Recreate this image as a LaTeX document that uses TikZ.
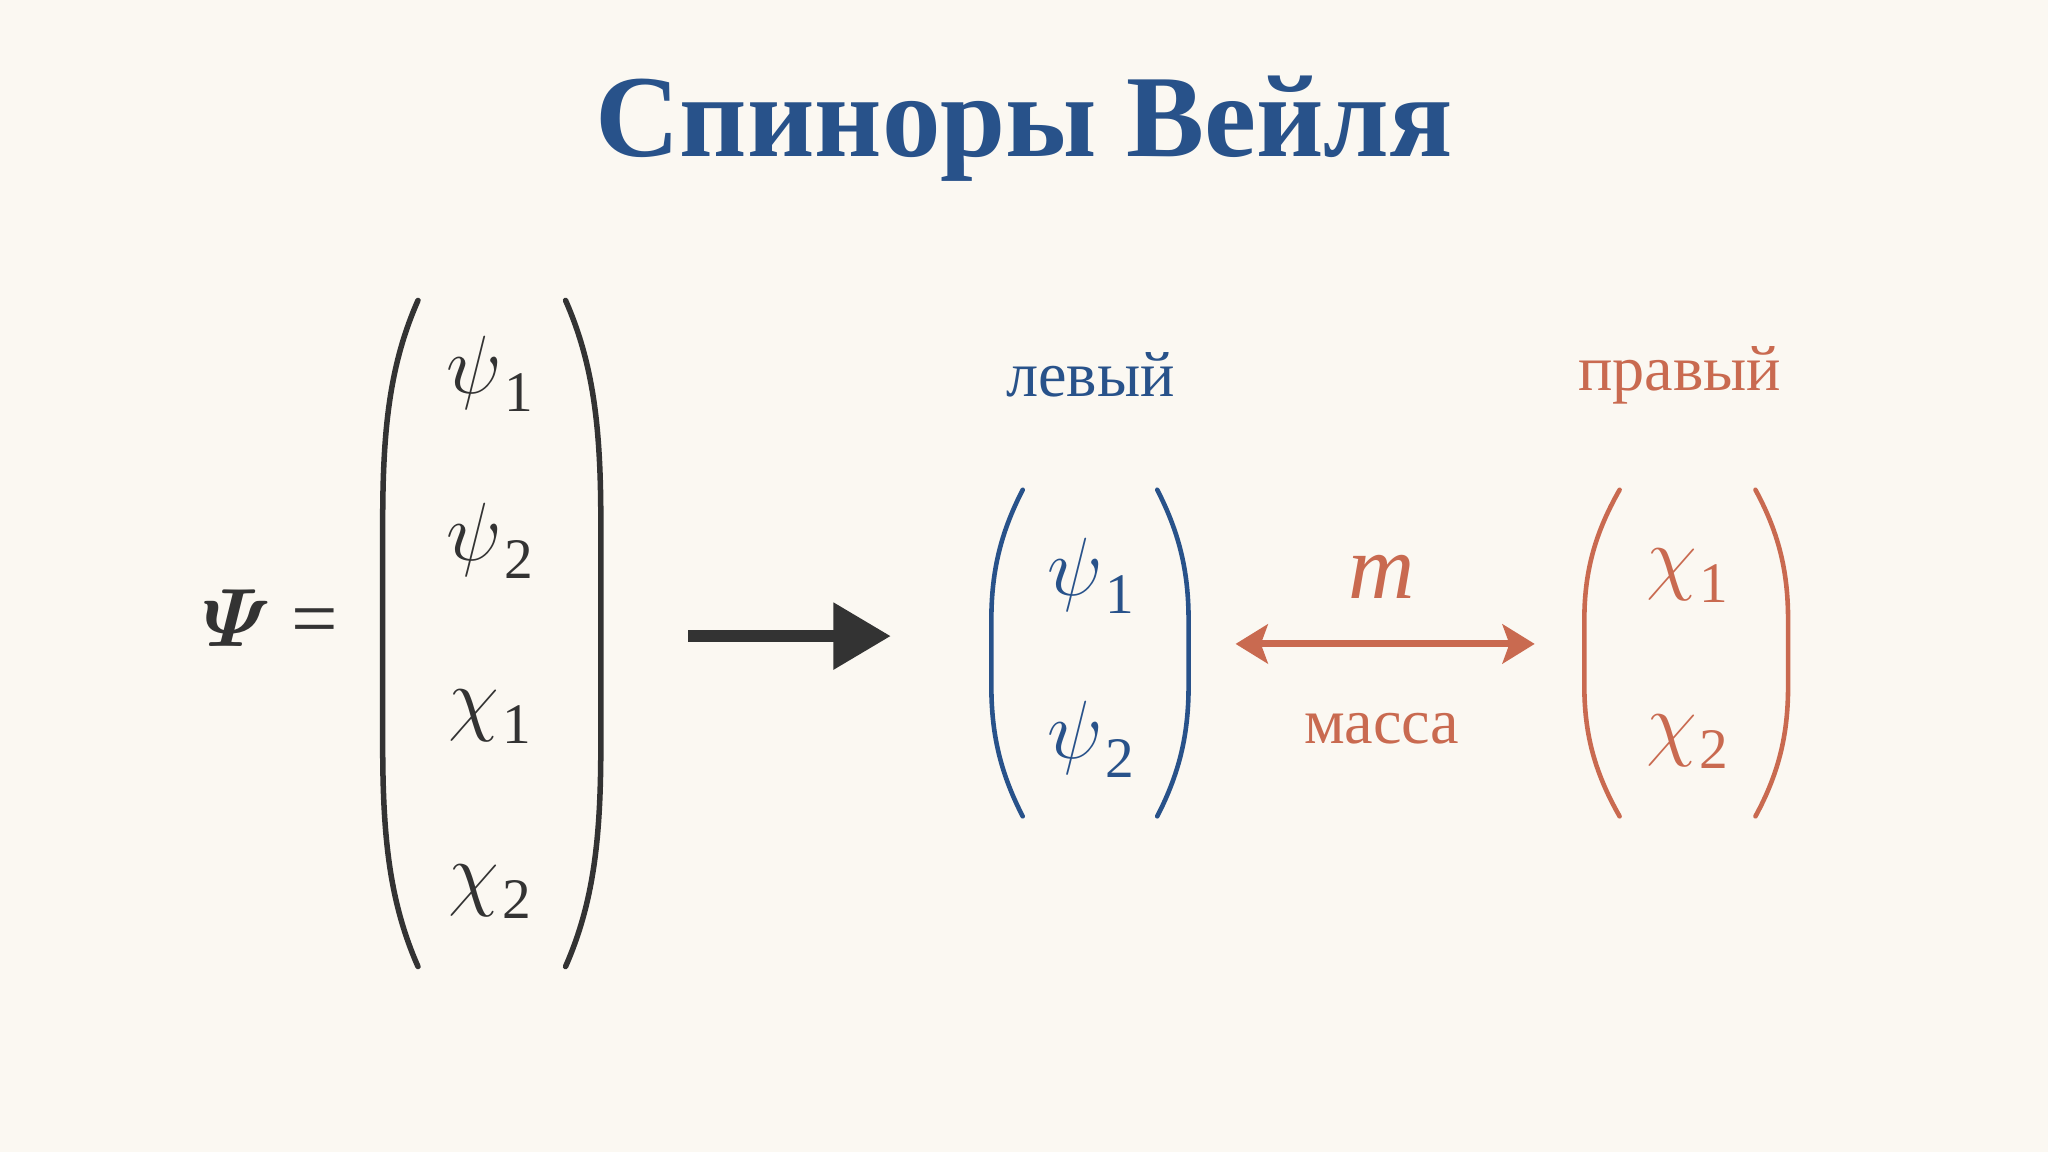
\RequirePackage{fix-cm}
\documentclass[tikz,border=0pt]{standalone}
\usepackage{amsmath}
\usepackage{fontspec}
\setmainfont{Liberation Serif}
\usepackage{xcolor}
\usepackage{tikz}
\usetikzlibrary{arrows.meta}
\definecolor{paper}{RGB}{251,248,242}
\definecolor{weylblue}{RGB}{40,82,138}
\definecolor{weylred}{RGB}{201,106,80}
\definecolor{ink}{RGB}{51,51,51}
\newcommand{\comp}[2]{$#1$\kern0.03em\raisebox{-0.22em}{\fontsize{25}{28}\selectfont #2}}
\tikzset{
	paren/.style={line width=2.4pt,line cap=round},
	smallparen/.style={line width=2pt,line cap=round},
	entry/.style={inner sep=0pt,font=\fontsize{36}{40}\selectfont},
	label/.style={inner sep=0pt,font=\fontsize{28}{32}\selectfont}
}

\begin{document}
\begin{tikzpicture}[line join=round,x=0.02cm,y=-0.02cm]
		\fill[paper] (0,0) rectangle (1568,882);
		\useasboundingbox (0,0) rectangle (1568,882);
		% title
		\node[inner sep=0pt,anchor=base,text=weylblue,font=\fontsize{51}{60}\selectfont\bfseries] (title) at (784,120) {Спиноры Вейля};
		% full Dirac spinor
		\node[entry,text=ink] (Psi) at (207,473) {$\boldsymbol{\varPsi}$ =};
		\draw [paren,ink] (320,230) .. controls (298,280) and (293,330) .. (293,400) -- (293,570) .. controls (293,640) and (298,690) .. (320,740);
		\draw [paren,ink] (433,230) .. controls (455,280) and (460,330) .. (460,400) -- (460,570) .. controls (460,640) and (455,690) .. (433,740);
		\node[entry,text=ink] (psiA) at (375,286) {\comp{\psi}{1}};
		\node[entry,text=ink] (psiB) at (375,414) {\comp{\psi}{2}};
		\node[entry,text=ink] (chiA) at (375,549) {\comp{\chi}{1}};
		\node[entry,text=ink] (chiB) at (375,683) {\comp{\chi}{2}};
		\coordinate (splitL) at (527,487);
		\coordinate (splitR) at (682,487);
		\draw [ink,line width=5pt,-{Triangle[length=25pt,width=28pt]}] (splitL) -- (splitR);
		% left-handed part
		\node[label,text=weylblue] (left) at (835,287) {левый};
		\draw [smallparen,weylblue] (783,375) .. controls (765,410) and (759,440) .. (759,475) -- (759,525) .. controls (759,560) and (765,590) .. (783,625);
		\draw [smallparen,weylblue] (886,375) .. controls (904,410) and (910,440) .. (910,475) -- (910,525) .. controls (910,560) and (904,590) .. (886,625);
		\node[entry,text=weylblue] (psiL) at (835,441) {\comp{\psi}{1}};
		\node[entry,text=weylblue] (psiM) at (835,566) {\comp{\psi}{2}};
		% right-handed part
		\node[label,text=weylred] (right) at (1286,287) {правый};
		\draw [smallparen,weylred] (1240,375) .. controls (1220,410) and (1213,440) .. (1213,475) -- (1213,525) .. controls (1213,560) and (1220,590) .. (1240,625);
		\draw [smallparen,weylred] (1344,375) .. controls (1363,410) and (1369,440) .. (1369,475) -- (1369,525) .. controls (1369,560) and (1363,590) .. (1344,625);
		\node[entry,text=weylred] (chiL) at (1292,441) {\comp{\chi}{1}};
		\node[entry,text=weylred] (chiM) at (1292,568) {\comp{\chi}{2}};
		% mass term
		\coordinate (massL) at (946,493);
		\coordinate (massR) at (1175,493);
		\draw [weylred,line width=3pt,{Stealth[length=14pt,width=17pt,inset=3pt]}-{Stealth[length=14pt,width=17pt,inset=3pt]}] (massL) -- (massR);
		\node[entry,text=weylred,font=\fontsize{40}{44}\selectfont\itshape] (mass) at (1058,442) {m};
		\node[label,text=weylred] (massname) at (1058,558) {масса};
	\end{tikzpicture}
\end{document}
